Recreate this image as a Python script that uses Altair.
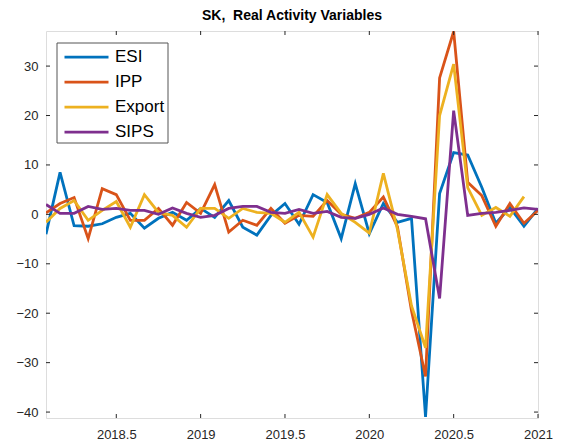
import altair as alt
import pandas as pd

# ---- data (monthly, 2018 + k/12, k = 1..36) ----
months = [2018 + k / 12 for k in range(1, 37)]

esi = [-4.0, 8.5, -2.3, -2.4, -1.9, -0.6, 0.2, -2.8, -0.8, 0.4, -1.2, 1.2,
       -0.6, 2.8, -2.6, -4.2, -0.2, 2.2, -2.0, 4.0, 2.4, -4.9, 6.2, -3.9,
       2.2, -1.6, -0.8, -41.0, 4.2, 12.5, 12.0, 5.5, -1.8, 1.4, -2.4, 1.2]
ipp = [0.3, 2.2, 3.4, -4.9, 5.2, 4.0, -1.2, -1.2, 1.2, -2.2, 2.4, 0.2,
       6.0, -3.6, -1.2, -2.2, 1.2, -1.8, -0.2, -0.4, 2.8, 0.0, -0.8, 0.4,
       3.5, -2.5, -19.5, -32.8, 27.6, 37.0, 6.5, 3.8, -2.4, 2.2, -1.8, 0.8]
export = [-1.6, 1.2, 2.8, -1.2, 0.8, 2.6, -2.6, 4.0, 0.4, -0.2, -2.6, 1.2,
          1.2, -0.8, 1.2, 0.4, 0.2, -1.6, 0.4, -4.6, 4.0, 0.2, -1.6, -3.8,
          8.3, -3.0, -18.5, -27.0, 20.0, 30.4, 5.4, -0.2, 1.4, -0.4, 3.6, None]
sips = [2.0, 0.2, 0.2, 1.6, 1.0, 1.2, 0.8, 0.8, 0.0, 1.3, 0.2, -0.6,
        -0.2, 1.2, 1.6, 1.6, 0.4, 0.2, 1.0, 0.2, 0.6, -0.6, -0.8, 0.0,
        1.3, 0.0, -0.4, -0.9, -17.0, 21.0, -0.2, 0.2, 0.4, 0.8, 1.3, 1.0]

series_names = ["ESI", "IPP", "Export", "SIPS"]
colors = ["#0072BD", "#D95319", "#EDB120", "#7E2F8E"]
x_ticks = [2018.5, 2019, 2019.5, 2020, 2020.5, 2021]
y_ticks = [-40, -30, -20, -10, 0, 10, 20, 30]
x_domain = [2018 + 1 / 12, 2021]
y_domain = [-41.2, 37.1]
title_text = "SK,\u00a0 Real Activity Variables"

rows = []
for name, vals in zip(series_names, [esi, ipp, export, sips]):
    for i, (t, v) in enumerate(zip(months, vals)):
        if v is not None:
            rows.append({"t": t, "v": v, "series": name, "order": i})
df = pd.DataFrame(rows)

W, H = 492, 387
FONT = "Liberation Sans"
AX = "#262626"
xscale = alt.Scale(domain=x_domain, nice=False, zero=False)
yscale = alt.Scale(domain=y_domain, nice=False, zero=False)
x_axis = alt.Axis(values=x_ticks, format="~g", title=None, grid=False, domain=False,
                  ticks=False, labelPadding=10, labelFontSize=13, labelFont=FONT,
                  labelColor=AX, labelFlush=False, labelOverlap=False)
y_axis = alt.Axis(values=y_ticks, title=None, grid=False, domain=False, ticks=False,
                  labelPadding=8, labelFontSize=13, labelFont=FONT, labelColor=AX,
                  labelFlush=False, labelOverlap=False)


def xe(field="t"):
    return alt.X(f"{field}:Q", scale=xscale, axis=x_axis)


def ye(field="v"):
    return alt.Y(f"{field}:Q", scale=yscale, axis=y_axis)


# legend frame (drawn as a plain rectangle behind the legend entries)
legend_box = alt.Chart(pd.DataFrame({"a": [0]})).mark_rect(
    fill="white", stroke="#555555", strokeWidth=1
).encode(x=alt.value(11), x2=alt.value(122), y=alt.value(12), y2=alt.value(112))

lines = alt.Chart(df).mark_line(strokeWidth=2.8, clip=True).encode(
    x=xe(),
    y=ye(),
    color=alt.Color(
        "series:N",
        scale=alt.Scale(domain=series_names, range=colors),
        legend=alt.Legend(
            title=None, orient="none", legendX=17, legendY=14,
            symbolType="stroke", symbolSize=1936, symbolStrokeWidth=2.8,
            labelFontSize=17, labelFont=FONT, labelColor="black",
            padding=0, rowPadding=0, clipHeight=24.3, labelOffset=5,
        ),
    ),
    order="order:Q",
)

xt = pd.DataFrame({"t": x_ticks})
yt = pd.DataFrame({"v": y_ticks})
tick_color = AX
xb = alt.Chart(xt).mark_rule(color=tick_color, strokeWidth=1).encode(
    x=xe(), y=alt.value(H), y2=alt.value(H - 4))
xtop = alt.Chart(xt).mark_rule(color=tick_color, strokeWidth=1).encode(
    x=xe(), y=alt.value(0), y2=alt.value(4))
yl = alt.Chart(yt).mark_rule(color=tick_color, strokeWidth=1).encode(
    y=ye(), x=alt.value(0), x2=alt.value(4))
yr = alt.Chart(yt).mark_rule(color=tick_color, strokeWidth=1).encode(
    y=ye(), x=alt.value(W), x2=alt.value(W - 4))

chart = alt.layer(lines, legend_box, xb, xtop, yl, yr).properties(
    width=W, height=H,
    autosize=alt.AutoSizeParams(type="none"),
    padding={"left": 38, "top": 23, "right": 17, "bottom": 27},
    title=alt.Title(title_text, fontSize=14, fontWeight="bold",
                    font=FONT, color="black", offset=8, anchor="middle"),
).configure_view(stroke="#4d4d4d", strokeWidth=1).configure(background="white")

chart.save("out.html", embed_options={"renderer": "svg", "actions": False})
